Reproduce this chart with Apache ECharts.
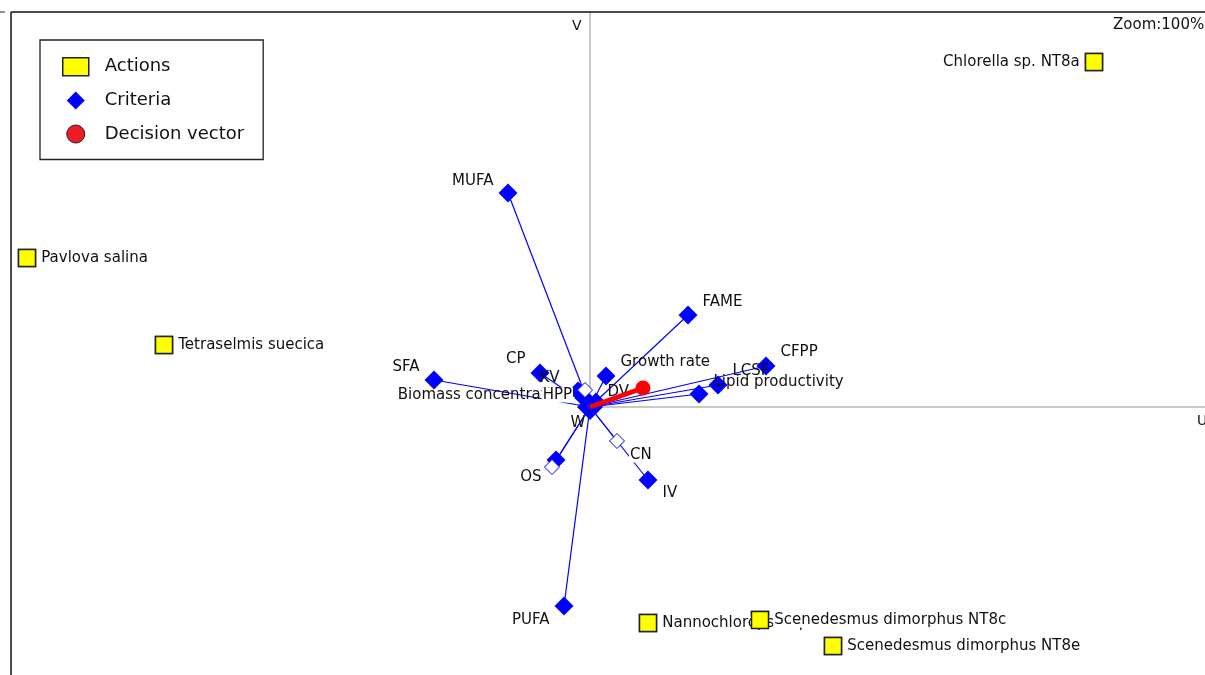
<!DOCTYPE html>
<html>
<head>
<meta charset="utf-8">
<script src="https://cdn.jsdelivr.net/npm/echarts@6/dist/echarts.min.js"></script>
<style>html,body{margin:0;padding:0;background:#fff;}#c{width:1205px;height:675px;}</style>
</head>
<body>
<div id="c"></div>
<script>
// ---- data (GAIA plane coordinates, U / V) ----
const actionNames = ['Chlorella sp. NT8a', 'Pavlova salina', 'Tetraselmis suecica', 'Nannochloropsis sp.', 'Scenedesmus dimorphus NT8c', 'Scenedesmus dimorphus NT8e'];
const actionU = [5.04, -5.63, -4.26, 0.58, 1.70, 2.43];
const actionV = [3.45, 1.49, 0.62, -2.16, -2.13, -2.39];

const criteriaNames = ['MUFA', 'FAME', 'CFPP', 'LCSF', 'Lipid productivity', 'SFA', 'CP', 'KV', 'Biomass concentration', 'Growth rate', 'DV', 'W', 'IV', 'OS', 'PUFA'];
const criteriaU = [-0.82, 0.98, 1.76, 1.28, 1.09, -1.56, -0.50, -0.12, -0.06, 0.16, 0.06, 0.00, 0.58, -0.34, -0.26];
const criteriaV = [2.14, 0.92, 0.41, 0.22, 0.13, 0.27, 0.34, 0.16, 0.09, 0.31, 0.05, 0.00, -0.73, -0.53, -1.99];

const hollowNames = ['HPP', 'CN', ''];
const hollowU = [-0.05, 0.27, -0.38];
const hollowV = [0.17, -0.34, -0.60];

const decisionU = [0.53];
const decisionV = [0.19];

const uRange = [-5.79, 6.15];
const vRange = [-2.68, 3.95];

// ---- label placement (style only) ----
const critLabel = {
  'MUFA': ['left', [0, -12]], 'FAME': ['right', [0, -13]], 'CFPP': ['right', [0, -14]],
  'LCSF': ['right', [0, -14]], 'Lipid productivity': ['right', [0, -12]], 'SFA': ['left', [0, -13]],
  'CP': ['left', [0, -14]], 'KV': ['left', [-4, -13]], 'Biomass concentration': ['left', [0, -3]],
  'Growth rate': ['right', [0, -14]], 'DV': ['right', [-3, -10]], 'W': ['bottom', [-12, -8]],
  'IV': ['right', [0, 13]], 'OS': ['left', [0, 17]], 'PUFA': ['left', [0, 14]],
  'HPP': ['left', [0, 5]], 'CN': ['right', [0, 14]]
};
const actLabel = { 'Chlorella sp. NT8a': 'left' };

const txt = '#111';
const fontFam = 'DejaVu Sans';
const diamondPath = 'path://M9,0 L18,9 L9,18 L0,9 Z';

const chart = echarts.init(document.getElementById('c'), null, { renderer: 'canvas' });

const critData = criteriaNames.map((n, i) => ({
  name: n, value: [criteriaU[i], criteriaV[i]],
  symbolSize: n === 'W' ? 26 : 19,
  label: { position: critLabel[n][0], offset: critLabel[n][1] }
}));
const hollowData = hollowNames.map((n, i) => ({
  name: n, value: [hollowU[i], hollowV[i]],
  label: n ? { position: critLabel[n][0], offset: critLabel[n][1] } : { show: false }
}));
const rayData = criteriaNames.map((n, i) => ({ coords: [[0, 0], [criteriaU[i], criteriaV[i]]] }))
  .concat(hollowNames.map((n, i) => ({ coords: [[0, 0], [hollowU[i], hollowV[i]]] })));
const actData = actionNames.map((n, i) => ({
  name: n, value: [actionU[i], actionV[i]],
  label: { position: actLabel[n] || 'right' }
}));

const labelBase = {
  show: true, formatter: '{b}', color: txt, fontFamily: fontFam, fontSize: 15,
  padding: [0, 1], distance: 4
};
const labelBoxed = Object.assign({}, labelBase, { backgroundColor: '#fff' });

chart.setOption({
  animation: false,
  backgroundColor: '#fff',
  grid: { left: 11, top: 12, right: 0, bottom: 0, show: false },
  xAxis: { type: 'value', min: uRange[0], max: uRange[1], show: false },
  yAxis: { type: 'value', min: vRange[0], max: vRange[1], show: false },
  legend: {
    orient: 'vertical', left: 40, top: 40,
    padding: [17, 19, 16, 22],
    borderColor: '#222', borderWidth: 1.3, backgroundColor: '#fff',
    itemWidth: 26, itemHeight: 18, itemGap: 15,
    textStyle: { fontFamily: fontFam, fontSize: 18, color: txt, padding: [0, 0, 0, 11] },
    data: [
      { name: 'Actions', icon: 'rect', itemStyle: { color: '#ffff00', borderColor: '#222', borderWidth: 1.5, opacity: 1 } },
      { name: 'Criteria', icon: diamondPath, itemStyle: { color: '#0000ff', opacity: 1 } },
      { name: 'Decision vector', icon: 'circle', itemStyle: { color: '#ee1c24', borderColor: '#222', borderWidth: 1, opacity: 1 } }
    ]
  },
  graphic: [
    { type: 'line', shape: { x1: 11, y1: 12, x2: 1205, y2: 12 }, style: { stroke: '#111', lineWidth: 1.5 }, z: 100 },
    { type: 'line', shape: { x1: 11, y1: 12, x2: 11, y2: 675 }, style: { stroke: '#111', lineWidth: 1.5 }, z: 100 },
    { type: 'line', shape: { x1: 0, y1: 12, x2: 5, y2: 12 }, style: { stroke: '#222', lineWidth: 1 } },
    { type: 'text', left: 1113, top: 18, style: { text: 'Zoom:100%', font: '15px "DejaVu Sans"', fill: txt } },
    { type: 'text', left: 572, top: 19, style: { text: 'V', font: '14px "DejaVu Sans"', fill: txt } },
    { type: 'text', left: 1197, top: 414, style: { text: 'U', font: '14px "DejaVu Sans"', fill: txt } }
  ],
  series: [
    {
      name: 'axes', type: 'lines', coordinateSystem: 'cartesian2d', silent: true, z: 1,
      lineStyle: { color: '#c8c8c8', width: 2, opacity: 1 },
      data: [{ coords: [[0, 0], [0, vRange[1]]] }, { coords: [[0, 0], [uRange[1], 0]] }]
    },
    {
      name: 'rays', type: 'lines', coordinateSystem: 'cartesian2d', silent: true, z: 2,
      lineStyle: { color: '#0000ff', width: 1.2, opacity: 1 },
      data: rayData
    },
    {
      name: 'Criteria', type: 'scatter', symbol: 'diamond', z: 4,
      itemStyle: { color: '#0000ff', opacity: 1 },
      label: labelBase,
      data: critData
    },
    {
      name: 'hollow', type: 'scatter', symbol: 'diamond', symbolSize: 15, z: 5,
      itemStyle: { color: '#fff', borderColor: '#0000ff', borderWidth: 1, opacity: 1 },
      label: labelBoxed,
      data: hollowData
    },
    {
      name: 'dvline', type: 'lines', coordinateSystem: 'cartesian2d', silent: true, z: 6,
      lineStyle: { color: '#ff0000', width: 5, opacity: 1 },
      data: decisionU.map((u, i) => ({ coords: [[0, 0], [u, decisionV[i]]] }))
    },
    {
      name: 'Decision vector', type: 'scatter', symbol: 'circle', symbolSize: 15, z: 7,
      itemStyle: { color: '#ff0000', opacity: 1 },
      data: decisionU.map((u, i) => [u, decisionV[i]])
    },
    {
      name: 'Actions', type: 'scatter', symbol: 'rect', symbolSize: 17, z: 8,
      itemStyle: { color: '#ffff00', borderColor: '#222', borderWidth: 1.5, opacity: 1 },
      label: labelBoxed,
      data: actData
    },
    {
      name: 'actionMarks', type: 'scatter', symbol: 'rect', symbolSize: 17, z: 9, silent: true,
      itemStyle: { color: '#ffff00', borderColor: '#222', borderWidth: 1.5, opacity: 1 },
      data: actionU.map((u, i) => [u, actionV[i]])
    }
  ]
});
</script>
</body>
</html>
